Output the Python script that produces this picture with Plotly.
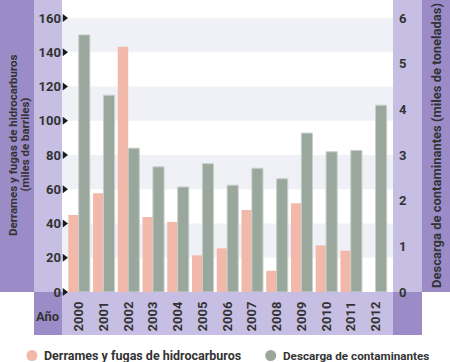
import plotly.graph_objects as go

W, H = 450, 362

years = ["2000", "2001", "2002", "2003", "2004", "2005", "2006",
         "2007", "2008", "2009", "2010", "2011", "2012"]
derrames = [45, 57.6, 143.2, 43.8, 40.9, 21.4, 25.5, 47.9, 12.4, 51.8, 27.2, 24.1, None]
descarga = [5.63, 4.31, 3.15, 2.74, 2.30, 2.81, 2.34, 2.71, 2.48, 3.48, 3.07, 3.10, 4.09]
left_ticks = [0, 20, 40, 60, 80, 100, 120, 140, 160]
right_ticks = [0, 1, 2, 3, 4, 5, 6]

name_left = "Derrames y fugas de hidrocarburos"
name_right = "Descarga de contaminantes"
title_left_1 = "Derrames y fugas de hidrocarburos"
title_left_2 = "(miles de barriles)"
title_right = "Descarga de contaminantes (miles de toneladas)"
label_year = "Año"

PINK = "#f2b9ab"
GREY = "#9aa79d"
DARK = "#9b8cc8"
LIGHT = "#c6bee3"
BAND = "#f0f1f7"
TXT = "#333333"
FONT = "Roboto"

idx = list(range(len(years)))
XMIN, XMAX = -0.69, 12.69
YMAX = 170.5
Y2MAX = YMAX * 6 / 160


def px(x):
    return x / W


def py(y):
    return 1 - y / H


fig = go.Figure()
fig.add_trace(go.Bar(x=idx, y=derrames, name=name_left, marker_color=PINK,
                     marker_line_width=0, width=0.42, offset=-0.435,
                     yaxis="y", showlegend=False))
fig.add_trace(go.Bar(x=idx, y=descarga, name=name_right, marker_color=GREY,
                     marker_line=dict(color="#c8d0ca", width=1), width=0.45,
                     offset=-0.015, yaxis="y2", showlegend=False))
# tick triangles
fig.add_trace(go.Scatter(x=[XMIN + 0.1] * len(left_ticks), y=left_ticks, mode="markers",
                         marker=dict(symbol="triangle-right", size=7, color="#1a1a1a"),
                         cliponaxis=False, yaxis="y", showlegend=False, hoverinfo="skip"))
fig.add_trace(go.Scatter(x=[XMAX + 0.11] * len(right_ticks), y=right_ticks, mode="markers",
                         marker=dict(symbol="triangle-left", size=7, color="#1a1a1a"),
                         cliponaxis=False, yaxis="y2", showlegend=False, hoverinfo="skip"))

shapes = []


def rect(x0, y0, x1, y1, color):
    shapes.append(dict(type="rect", xref="paper", yref="paper",
                       x0=px(x0), x1=px(x1), y0=py(y1), y1=py(y0),
                       fillcolor=color, line_width=0, layer="below"))


rect(0, 0, 34, 292, DARK)
rect(34, 0, 62, 292, LIGHT)
rect(393, 0, 422, 292, LIGHT)
rect(422, 0, 450, 292, DARK)
rect(34, 292, 62, 335, DARK)
rect(62, 292, 393, 335, LIGHT)
rect(393, 292, 422, 335, DARK)

for lo in [20, 60, 100, 140]:
    shapes.append(dict(type="rect", xref="x domain", yref="y", x0=0, x1=1,
                       y0=lo, y1=lo + 20, fillcolor=BAND, line_width=0, layer="below"))

# legend circles
for cx, col in [(32, PINK), (270.7, GREY)]:
    shapes.append(dict(type="circle", xref="paper", yref="paper",
                       x0=px(cx - 5.5), x1=px(cx + 5.5), y0=py(355.5 + 5.5), y1=py(355.5 - 5.5),
                       fillcolor=col, line_width=0))


def ann(text, x, y, size, angle=0, xanchor="center"):
    return dict(text="<b>%s</b>" % text, x=px(x), y=py(y), xref="paper", yref="paper",
                showarrow=False, textangle=angle, font=dict(size=size, color=TXT, family=FONT),
                xanchor=xanchor, yanchor="middle", borderpad=0)


annotations = [
    ann(title_left_1, 13, 145, 11.5, -90),
    ann(title_left_2, 24.5, 145, 11.5, -90),
    ann(title_right, 436, 146, 13, -90),
    ann(label_year, 47.5, 316.5, 13),
    ann(name_left, 43, 355.5, 12.5, 0, "left"),
    ann(name_right, 281.7, 355.5, 11.7, 0, "left"),
]

tickfont = dict(size=13, color=TXT, family=FONT, weight="bold")

fig.update_layout(
    width=W, height=H,
    margin=dict(l=0, r=0, t=0, b=0),
    paper_bgcolor="white", plot_bgcolor="rgba(0,0,0,0)",
    barmode="overlay",
    shapes=shapes, annotations=annotations,
    xaxis=dict(domain=[px(62), px(393)], range=[XMIN, XMAX], tickvals=idx, ticktext=years,
               tickangle=-90, showgrid=False, zeroline=False, showline=False, ticks="",
               tickfont=tickfont, ticklabelstandoff=6, fixedrange=True, automargin=False),
    yaxis=dict(domain=[py(292), 1], range=[0, YMAX], tickvals=left_ticks, showgrid=False,
               zeroline=False, showline=False, ticks="", tickfont=tickfont, fixedrange=True,
               automargin=False),
    yaxis2=dict(overlaying="y", side="right", anchor="x", range=[0, Y2MAX], tickvals=right_ticks,
                showgrid=False, zeroline=False, showline=False, ticks="", tickfont=tickfont,
                ticklabelstandoff=5, fixedrange=True, automargin=False),
)

fig.write_html("out.html", config={"displayModeBar": False},
               post_script="document.body.style.margin='0';document.body.style.overflow='hidden';")
